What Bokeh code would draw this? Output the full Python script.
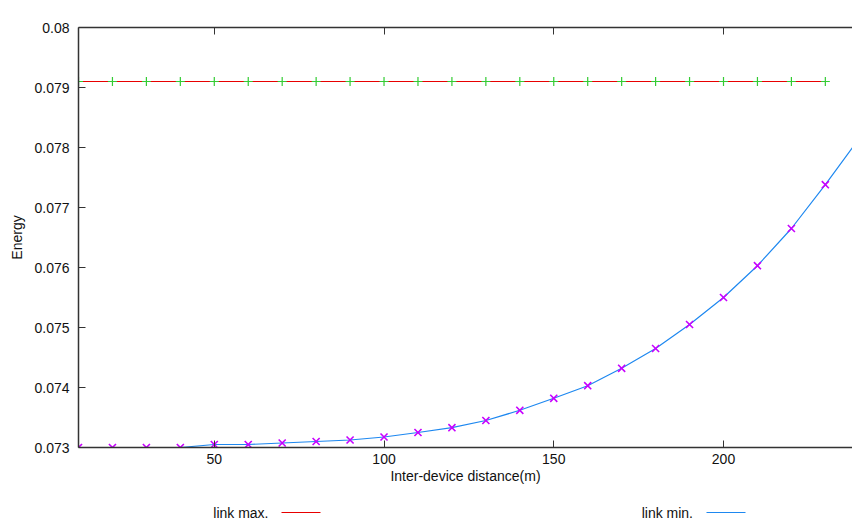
from bokeh.plotting import figure
from bokeh.models import (FixedTicker, CustomJSTickFormatter, LinearAxis, Label, Range1d)
from bokeh.layouts import column
from bokeh.core.properties import value
from bokeh.embed import file_html
from bokeh.resources import INLINE

# ---- data ----
distance = [10, 20, 30, 40, 50, 60, 70, 80, 90, 100, 110, 120, 130, 140, 150,
            160, 170, 180, 190, 200, 210, 220, 230]
link_max = [0.07910] * len(distance)
link_min = [0.07300, 0.07300, 0.07300, 0.07300, 0.07305, 0.07305, 0.073075,
            0.07310, 0.073125, 0.073175, 0.07325, 0.07333, 0.07345, 0.07362,
            0.07382, 0.07403, 0.07432, 0.07465, 0.07505, 0.07550, 0.07603,
            0.07665, 0.07738]
curve_x = distance + [238]
curve_min = link_min + [0.07800]
x_ticks = [50, 100, 150, 200]
y_ticks = [0.073, 0.074, 0.075, 0.076, 0.077, 0.078, 0.079, 0.080]
legend_names = ["link max.", "link min."]

FONT = "Liberation Sans"
FS = "14px"
RED = "#e80000"
BLUE = "#1e88f0"

p = figure(width=852, height=490, output_backend="svg", toolbar_location=None,
           x_range=Range1d(10, 238), y_range=Range1d(0.073, 0.080),
           min_border_left=78, min_border_right=0, min_border_top=27,
           min_border_bottom=43, x_axis_type=None, y_axis_type=None)
p.outline_line_color = None

def style_axis(ax):
    ax.axis_line_color = "#333333"
    ax.axis_line_width = 1.5
    ax.major_tick_line_color = "#333333"
    ax.major_tick_in = 7
    ax.major_tick_out = 0
    ax.minor_tick_line_color = None
    ax.major_label_text_font = FONT
    ax.major_label_text_font_size = FS
    ax.major_label_text_color = "#111111"
    ax.axis_label_text_font = FONT
    ax.axis_label_text_font_size = FS
    ax.axis_label_text_font_style = "normal"
    ax.axis_label_text_color = "#111111"

xax = LinearAxis(ticker=FixedTicker(ticks=x_ticks), axis_label="Inter-device distance(m)")
style_axis(xax)
xax.major_label_standoff = 6
xax.axis_label_standoff = 1
p.add_layout(xax, "below")

yax = LinearAxis(ticker=FixedTicker(ticks=y_ticks), axis_label="Energy",
                 formatter=CustomJSTickFormatter(code="return String(Math.round(tick*1000)/1000);"))
style_axis(yax)
yax.major_label_standoff = 9
yax.axis_label_standoff = 6
p.add_layout(yax, "left")

tax = LinearAxis(ticker=FixedTicker(ticks=x_ticks),
                 formatter=CustomJSTickFormatter(code="return '';"))
style_axis(tax)
tax.major_label_standoff = 0
p.add_layout(tax, "above")

p.xgrid.ticker = FixedTicker(ticks=x_ticks)
p.ygrid.ticker = FixedTicker(ticks=y_ticks)
for g in (p.xgrid, p.ygrid):
    g.grid_line_color = "#b8b8b8"
    g.grid_line_width = 1

# series
p.line(distance, link_max, line_color=RED, line_width=1)
p.scatter(distance, link_max, marker="cross", size=9, line_color="#33cc33", line_width=1.2)
p.line(curve_x, curve_min, line_color=BLUE, line_width=1.2)
p.scatter(distance, link_min, marker="x", size=10, line_color="#c800ff", line_width=1.6)

# title
p.add_layout(Label(x=124.0, y=0.0801667, text="Transmission costs", text_align="center",
                   text_baseline="middle", text_font=FONT, text_font_size=FS,
                   text_color="#111111"))

# legend strip below (text then sample line, gnuplot style); frame aligned with main plot
lg = figure(width=852, height=34, output_backend="svg", toolbar_location=None,
            x_range=Range1d(78, 852), y_range=Range1d(0, 34),
            min_border_left=78, min_border_right=0, min_border_top=0, min_border_bottom=0,
            x_axis_type=None, y_axis_type=None)
lg.outline_line_color = None
lg.xgrid.visible = False
lg.ygrid.visible = False
ly = 12
lg.text(x=[268, 692.5], y=[ly, ly], text=legend_names, text_align="right",
        text_baseline="middle", text_font=value(FONT), text_font_size=FS,
        text_color="#111111")
lg.line([281, 320], [ly, ly], line_color=RED, line_width=1)
lg.line([706, 745], [ly, ly], line_color=BLUE, line_width=1)

layout = column(p, lg, spacing=0)
open("out.html", "w").write(file_html(layout, INLINE))
